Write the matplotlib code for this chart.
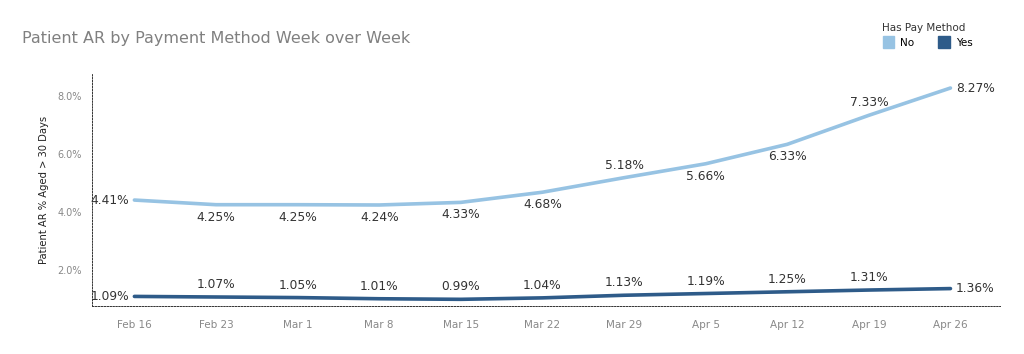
import matplotlib.pyplot as plt
from matplotlib.patches import Patch

weeks = ["Feb 16", "Feb 23", "Mar 1", "Mar 8", "Mar 15", "Mar 22",
         "Mar 29", "Apr 5", "Apr 12", "Apr 19", "Apr 26"]
no_pay = [4.41, 4.25, 4.25, 4.24, 4.33, 4.68, 5.18, 5.66, 6.33, 7.33, 8.27]
yes_pay = [1.09, 1.07, 1.05, 1.01, 0.99, 1.04, 1.13, 1.19, 1.25, 1.31, 1.36]
# where each data label sits relative to its point
no_pos = ["left", "below", "below", "below", "below", "below",
          "above", "below", "below", "above", "right"]
yes_pos = ["left"] + ["above"] * 9 + ["right"]

c_no = "#97c3e3"
c_yes = "#2e5b89"
txt = "#333333"

plt.rcParams['font.family'] = ['DejaVu Sans']

fig = plt.figure(figsize=(10.24, 3.54), dpi=100)
ax = fig.add_axes([0.0898, 0.1356, 0.887, 0.6584])

x = list(range(len(weeks)))
ax.plot(x, no_pay, color=c_no, lw=2.6, solid_capstyle="round")
ax.plot(x, yes_pay, color=c_yes, lw=2.6, solid_capstyle="round")

offsets = {"left": ((-4, 0), "right", "center"),
           "right": ((4, 0), "left", "center"),
           "above": ((0, 9), "center", "center"),
           "below": ((0, -9), "center", "center")}

for vals, pos in ((no_pay, no_pos), (yes_pay, yes_pos)):
    for i, (v, p) in enumerate(zip(vals, pos)):
        off, ha, va = offsets[p]
        ax.annotate(f"{v:.2f}%", (i, v), xytext=off, textcoords="offset points",
                    ha=ha, va=va, fontsize=8.8, color=txt)

ax.set_xlim(-0.52, 10.61)
ax.set_ylim(0.76, 8.79)
ax.set_xticks(x)
ax.set_xticklabels(weeks)
ax.set_yticks([2, 4, 6, 8])
ax.set_yticklabels(["2.0%", "4.0%", "6.0%", "8.0%"])
ax.tick_params(length=0, labelsize=7.5, labelcolor="#888888")
ax.tick_params(axis="y", labelsize=7)
ax.tick_params(axis="x", pad=10)
ax.tick_params(axis="y", pad=7)

for s in ("top", "right"):
    ax.spines[s].set_visible(False)
for s in ("left", "bottom"):
    ax.spines[s].set_linestyle((0, (1.5, 1.5)))
    ax.spines[s].set_linewidth(0.7)
    ax.spines[s].set_color("#333333")

ax.set_ylabel("Patient AR % Aged > 30 Days", fontsize=7.2, color="#222222", labelpad=6)

fig.text(0.021, 0.89, "Patient AR by Payment Method Week over Week",
         fontsize=11.5, color="#808080", va="center")

fig.text(0.861, 0.921, "Has Pay Method", fontsize=7.5, color=txt, va="center")
handles = [Patch(color=c_no, label="No"), Patch(color=c_yes, label="Yes")]
fig.legend(handles=handles, loc="upper left", bbox_to_anchor=(0.862, 0.897),
           ncol=2, frameon=False, fontsize=7.5, handlelength=1.1, handleheight=1.3,
           handletextpad=0.6, columnspacing=2.3, borderaxespad=0, borderpad=0)

fig.savefig("out.png", dpi=100)
